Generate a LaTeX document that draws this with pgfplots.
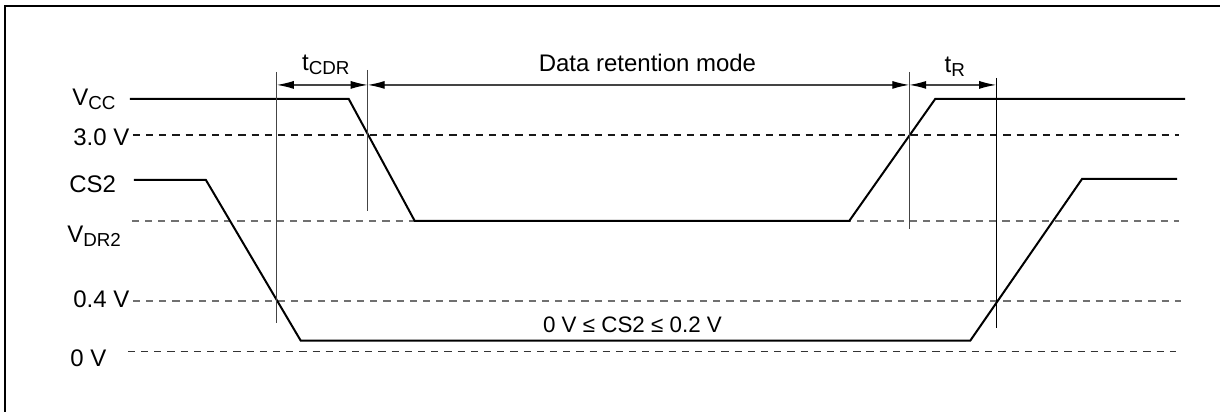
\documentclass[border=0pt]{standalone}
\usepackage{pgfplots}
\pgfplotsset{compat=1.18}
\usetikzlibrary{arrows.meta}
\usepackage{fontspec}
\setmainfont{Liberation Sans}
\definecolor{dgray}{HTML}{444444}
\definecolor{mgray}{HTML}{707070}
\newcommand{\mainf}{\fontsize{12}{13}\selectfont}
\newcommand{\subf}[1]{\raisebox{-2pt}{\fontsize{9.4}{10}\selectfont #1}}
\begin{document}
\begin{tikzpicture}
\begin{axis}[
  scale only axis, width=610.5pt, height=206pt,
  xmin=0, xmax=1221, ymin=0, ymax=412,
  hide axis, clip=false,
  every axis plot/.append style={line join=miter},
]
% invisible bounding rectangle
\addplot[draw=none] coordinates {(0,0) (1221,412)};
% frame (left and top)
\addplot[black, line width=1pt] coordinates {(5,0) (5,406) (1221,406)};
% dashed reference levels (y = 412 - pixel row)
\addplot[black!90, line width=0.75pt, dash pattern=on 3.6pt off 3pt] coordinates {(133,277) (1180,277)};
\addplot[mgray, line width=0.85pt, dash pattern=on 3.6pt off 3pt] coordinates {(132,191) (1180,191)};
\addplot[mgray, line width=0.85pt, dash pattern=on 3.6pt off 3pt] coordinates {(133,111) (1182,111)};
\addplot[black!80, line width=0.75pt, dash pattern=on 3.6pt off 3pt] coordinates {(128,60) (1177,60)};
% signals
\addplot[black, line width=1pt] coordinates {(130,313) (349,313) (415,191) (850,191) (936,313) (1186,313)};
\addplot[black, line width=1pt] coordinates {(134,232) (206,232) (301,71) (971,71) (1083,233) (1178,233)};
% vertical marker lines
\addplot[dgray, line width=0.65pt] coordinates {(277,340) (277,89)};
\addplot[dgray, line width=0.65pt] coordinates {(368,342) (368,201)};
\addplot[dgray, line width=0.65pt] coordinates {(910,340) (910,183)};
\addplot[black, line width=0.65pt] coordinates {(997,334) (997,84)};
% dimension arrows
\addplot[dgray, line width=0.6pt, {Latex[length=8.5pt,width=4pt,color=black]}-{Latex[length=8.5pt,width=4pt,color=black]}] coordinates {(277,327) (368,327)};
\addplot[dgray, line width=0.6pt, {Latex[length=8.5pt,width=4pt,color=black]}-{Latex[length=8.5pt,width=4pt,color=black]}] coordinates {(368,327) (910,327)};
\addplot[dgray, line width=0.6pt, {Latex[length=8.5pt,width=4pt,color=black]}-{Latex[length=8.5pt,width=4pt,color=black]}] coordinates {(910,327) (997,327)};
% labels
\node[anchor=base west, inner sep=0] at (axis cs:72,306) {\mainf V\subf{CC}};
\node[anchor=base west, inner sep=0] at (axis cs:73,266) {\mainf 3.0 V};
\node[anchor=base west, inner sep=0] at (axis cs:69,219) {\mainf CS2};
\node[anchor=base west, inner sep=0] at (axis cs:67,169) {\mainf V\subf{DR2}};
\node[anchor=base west, inner sep=0] at (axis cs:73,104) {\mainf 0.4 V};
\node[anchor=base west, inner sep=0] at (axis cs:70,45) {\mainf 0 V};
\node[anchor=base west, inner sep=0] at (axis cs:302,341) {\mainf t\subf{CDR}};
\node[anchor=base, inner sep=0] at (axis cs:648,340) {\mainf Data retention mode};
\node[anchor=base west, inner sep=0] at (axis cs:945,339) {\mainf t\subf{R}};
\node[anchor=base, inner sep=0] at (axis cs:633,79) {\fontsize{11.2}{12}\selectfont 0 V ≤ CS2 ≤ 0.2 V};
\end{axis}
\end{tikzpicture}
\end{document}
